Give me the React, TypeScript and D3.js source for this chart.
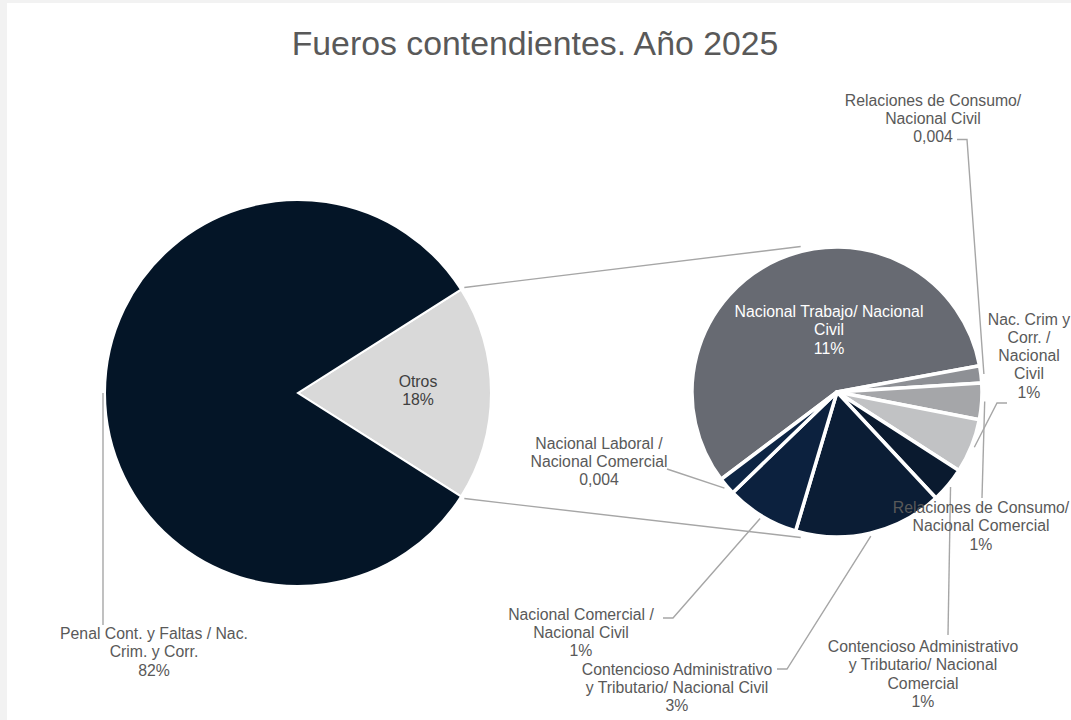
import React from 'react'
import * as d3 from 'd3'

// main pie
const mainCats = ['Otros', 'Penal Cont. y Faltas / Nac. Crim. y Corr.']
const mainValues = [18, 82]
const mainLabels = ['18%', '82%']

// second pie (breakdown of "Otros"), clockwise
const subCats = [
  'Nacional Trabajo/ Nacional Civil',
  'Relaciones de Consumo/ Nacional Civil',
  'Relaciones de Consumo/ Nacional Comercial',
  'Nac. Crim y Corr. / Nacional Civil',
  'Contencioso Administrativo y Tributario/ Nacional Comercial',
  'Contencioso Administrativo y Tributario/ Nacional Civil',
  'Nacional Comercial / Nacional Civil',
  'Nacional Laboral / Nacional Comercial',
]
const subValues = [10.33, 0.34, 0.73, 1.09, 0.71, 2.98, 1.47, 0.35]
const subLabels = ['11%', '0,004', '1%', '1%', '1%', '3%', '1%', '0,004']

const mainLines = [['Otros'], ['Penal Cont. y Faltas / Nac.', 'Crim. y Corr.']]
const subLines = [
  ['Nacional Trabajo/ Nacional', 'Civil'],
  ['Relaciones de Consumo/', 'Nacional Civil'],
  ['Relaciones de Consumo/', 'Nacional Comercial'],
  ['Nac. Crim y', 'Corr. /', 'Nacional', 'Civil'],
  ['Contencioso Administrativo', 'y Tributario/ Nacional', 'Comercial'],
  ['Contencioso Administrativo', 'y Tributario/ Nacional Civil'],
  ['Nacional Comercial /', 'Nacional Civil'],
  ['Nacional Laboral /', 'Nacional Comercial'],
]

const mainColors = ['#d9d9d9', '#041527']
const subColors = ['#676a72', '#8e9095', '#a5a6a9', '#c1c2c4', '#0a1a2f', '#0b1d35', '#0c213e', '#0d2544']

const W = 1071
const H = 720
const main = { x: 298, y: 393, r: 193 }
const sub = { x: 837, y: 392, r: 145 }
const subStart = (233 * Math.PI) / 180
const lineH = 18.3
const textColor = '#595959'
const leaderColor = '#a6a6a6'

// label placement: text center, first baseline, extra leader points
type Place = { x: number; y: number; fill?: string; leader?: [number, number][] }
const mainPlace: Place[] = [
  { x: 418, y: 386.5, fill: '#404040' },
  { x: 154, y: 639, leader: [[103, 625]] },
]
const subPlace: Place[] = [
  { x: 829, y: 317, fill: '#ffffff' },
  { x: 933, y: 105.5, leader: [[967, 139.5], [957, 139.5]] },
  { x: 981, y: 513, leader: [[982, 498]] },
  { x: 1029, y: 324.5, leader: [[997, 403], [1007, 403]] },
  { x: 923, y: 652, leader: [[948, 635]] },
  { x: 677, y: 674.5, leader: [[787, 669], [777, 669]] },
  { x: 581, y: 619.5, leader: [[673, 618], [663, 618]] },
  { x: 599, y: 448.5, leader: [[667, 469]] },
]

const polar = (cx: number, cy: number, r: number, a: number): [number, number] => [
  cx + r * Math.sin(a),
  cy - r * Math.cos(a),
]

const App: React.FC = () => {
  const mainTotal = d3.sum(mainValues)
  const otrosAngle = (mainValues[0] / mainTotal) * 2 * Math.PI
  const mainStart = Math.PI / 2 - otrosAngle / 2

  const mainArcs = d3
    .pie<number>()
    .sort(null)
    .startAngle(mainStart)
    .endAngle(mainStart + 2 * Math.PI)(mainValues)
  const subArcs = d3
    .pie<number>()
    .sort(null)
    .startAngle(subStart)
    .endAngle(subStart + 2 * Math.PI)(subValues)

  const mainArc = d3.arc<d3.PieArcDatum<number>>().innerRadius(0).outerRadius(main.r)
  const subArc = d3.arc<d3.PieArcDatum<number>>().innerRadius(0).outerRadius(sub.r)
  const mainEdge = d3.arc<d3.PieArcDatum<number>>().innerRadius(main.r + 2).outerRadius(main.r + 2)
  const subEdge = d3.arc<d3.PieArcDatum<number>>().innerRadius(sub.r + 3).outerRadius(sub.r + 3)

  // connector lines between the "Otros" slice and the second pie
  const otros = mainArcs[0]
  const connectors = [
    [polar(main.x, main.y, main.r + 4, otros.startAngle), polar(sub.x, sub.y, sub.r + 5, (-14 * Math.PI) / 180)],
    [polar(main.x, main.y, main.r + 4, otros.endAngle), polar(sub.x, sub.y, sub.r + 5, (194 * Math.PI) / 180)],
  ]

  const renderLabel = (lines: string[], value: string, p: Place, key: string) => (
    <text
      key={key}
      textAnchor="middle"
      fontSize={15.8}
      fill={p.fill ?? textColor}
    >
      {[...lines, value].map((t, i) => (
        <tspan key={i} x={p.x} y={p.y + i * lineH}>
          {t}
        </tspan>
      ))}
    </text>
  )

  const leaderPath = (start: [number, number], pts: [number, number][]) =>
    d3.line()([start, ...pts]) ?? ''

  return (
    <div style={{ position: 'absolute', left: 0, top: 0 }}>
      <svg
        width={W}
        height={H}
        viewBox={`0 0 ${W} ${H}`}
        style={{ display: 'block', fontFamily: '"Liberation Sans", Arial, sans-serif' }}
      >
        <rect x={0} y={0} width={W} height={H} fill="#f2f2f2" />
        <rect x={7} y={3} width={W - 7} height={H - 3} fill="#ffffff" />

        <text x={535} y={55} textAnchor="middle" fontSize={33.8} fill={textColor}>
          Fueros contendientes. Año 2025
        </text>

        {connectors.map((c, i) => (
          <path key={i} d={d3.line()(c) ?? ''} stroke={leaderColor} strokeWidth={1.4} fill="none" />
        ))}

        <g transform={`translate(${main.x},${main.y})`}>
          {mainArcs.map((d, i) => (
            <path key={mainCats[i]} d={mainArc(d) ?? ''} fill={mainColors[i]} stroke="#ffffff" strokeWidth={2} />
          ))}
        </g>

        <g transform={`translate(${sub.x},${sub.y})`}>
          {subArcs.map((d, i) => (
            <path key={subCats[i]} d={subArc(d) ?? ''} fill={subColors[i]} stroke="#ffffff" strokeWidth={3.5} strokeLinejoin="round" />
          ))}
        </g>

        {mainArcs.map((d, i) => {
          const p = mainPlace[i]
          if (!p.leader) return null
          const c = mainEdge.centroid(d)
          return (
            <path
              key={'ml' + i}
              d={leaderPath([c[0] + main.x, c[1] + main.y], p.leader)}
              stroke={leaderColor}
              strokeWidth={1.4}
              fill="none"
            />
          )
        })}
        {subArcs.map((d, i) => {
          const p = subPlace[i]
          if (!p.leader) return null
          const c = subEdge.centroid(d)
          return (
            <path
              key={'sl' + i}
              d={leaderPath([c[0] + sub.x, c[1] + sub.y], p.leader)}
              stroke={leaderColor}
              strokeWidth={1.4}
              fill="none"
            />
          )
        })}

        {mainArcs.map((_, i) => renderLabel(mainLines[i], mainLabels[i], mainPlace[i], 'mt' + i))}
        {subArcs.map((_, i) => renderLabel(subLines[i], subLabels[i], subPlace[i], 'st' + i))}
      </svg>
    </div>
  )
}

export default App
